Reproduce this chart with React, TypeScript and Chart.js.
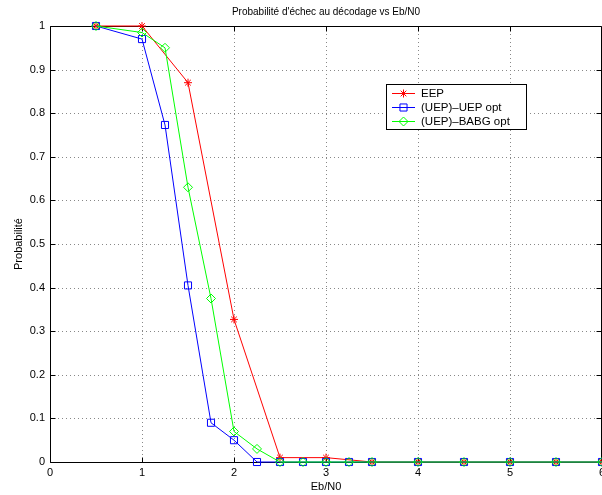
import React, { useEffect, useRef } from 'react';
import { Chart, registerables } from 'chart.js';

Chart.register(...registerables);

const titleText = "Probabilité d'échec au décodage vs Eb/N0";
const xLabel = 'Eb/N0';
const yLabel = 'Probabilité';

const seriesNames = ['EEP', '(UEP)–UEP opt', '(UEP)–BABG opt'];

const eepX = [0.5, 1, 1.5, 2, 2.5, 3, 3.5, 4, 4.5, 5, 5.5, 6];
const eepY = [1, 1, 0.87, 0.327, 0.01, 0.01, 0, 0, 0, 0, 0, 0];

const uepX = [0.5, 1, 1.25, 1.5, 1.75, 2, 2.25, 2.5, 2.75, 3, 3.25, 3.5, 4, 4.5, 5, 5.5, 6];
const uepY = [1, 0.97, 0.773, 0.405, 0.09, 0.05, 0, 0, 0, 0, 0, 0, 0, 0, 0, 0, 0];

const babgX = [0.5, 1, 1.25, 1.5, 1.75, 2, 2.25, 2.5, 2.75, 3, 3.25, 3.5, 4, 4.5, 5, 5.5, 6];
const babgY = [1, 0.985, 0.95, 0.63, 0.375, 0.07, 0.03, 0, 0, 0, 0, 0, 0, 0, 0, 0, 0];

const xTicks = [0, 1, 2, 3, 4, 5, 6];
const yTicks = [0, 0.1, 0.2, 0.3, 0.4, 0.5, 0.6, 0.7, 0.8, 0.9, 1];

const FONT = '"Liberation Sans", Arial, Helvetica, sans-serif';
const COLORS = ['#ff0000', '#0000ff', '#00ff00'];
const STYLES = ['star', 'rect', 'rectRot'];
const RADII = [4, 5, 4.5];

function toPoints(xs: number[], ys: number[]) {
  return xs.map((x, i) => ({ x, y: ys[i] }));
}

function drawMarker(ctx: CanvasRenderingContext2D, style: string, cx: number, cy: number, r: number, color: string) {
  ctx.save();
  ctx.strokeStyle = color;
  ctx.lineWidth = 1;
  ctx.beginPath();
  if (style === 'star') {
    ctx.moveTo(cx - r, cy); ctx.lineTo(cx + r, cy);
    ctx.moveTo(cx, cy - r); ctx.lineTo(cx, cy + r);
    const d = r * Math.SQRT1_2;
    ctx.moveTo(cx - d, cy - d); ctx.lineTo(cx + d, cy + d);
    ctx.moveTo(cx - d, cy + d); ctx.lineTo(cx + d, cy - d);
  } else if (style === 'rect') {
    const s = r * Math.SQRT1_2;
    ctx.rect(cx - s, cy - s, 2 * s, 2 * s);
  } else {
    ctx.moveTo(cx, cy - r); ctx.lineTo(cx + r, cy); ctx.lineTo(cx, cy + r); ctx.lineTo(cx - r, cy); ctx.closePath();
  }
  ctx.stroke();
  ctx.restore();
}

const matlabAxes = {
  id: 'matlabAxes',
  beforeDatasetsDraw(chart: any) {
    const { ctx, chartArea: a, scales } = chart;
    const xs = scales.x;
    const ys = scales.y;
    ctx.save();
    ctx.lineWidth = 1;
    ctx.strokeStyle = '#888888';
    ctx.setLineDash([1, 3]);
    ctx.beginPath();
    for (const v of xTicks) {
      const px = Math.round(xs.getPixelForValue(v)) + 0.5;
      if (px <= a.left + 2 || px >= a.right - 2) continue;
      ctx.moveTo(px, a.top);
      ctx.lineTo(px, a.bottom);
    }
    for (const v of yTicks) {
      const py = Math.round(ys.getPixelForValue(v)) + 0.5;
      if (py <= a.top + 2 || py >= a.bottom - 2) continue;
      ctx.moveTo(a.left, py);
      ctx.lineTo(a.right, py);
    }
    ctx.stroke();
    ctx.setLineDash([]);
    ctx.strokeStyle = '#000000';
    ctx.beginPath();
    const L = Math.round(a.left) + 0.5;
    const R = Math.round(a.right) - 0.5;
    const T = Math.round(a.top) + 0.5;
    const B = Math.round(a.bottom) + 0.5;
    ctx.moveTo(L, T); ctx.lineTo(R, T); ctx.lineTo(R, B); ctx.lineTo(L, B); ctx.closePath();
    const tl = 5;
    for (const v of xTicks) {
      const px = Math.round(xs.getPixelForValue(v)) + 0.5;
      ctx.moveTo(px, B); ctx.lineTo(px, B - tl);
      ctx.moveTo(px, T); ctx.lineTo(px, T + tl);
    }
    for (const v of yTicks) {
      const py = Math.round(ys.getPixelForValue(v)) + 0.5;
      ctx.moveTo(L, py); ctx.lineTo(L + tl, py);
      ctx.moveTo(R, py); ctx.lineTo(R - tl, py);
    }
    ctx.stroke();
    ctx.restore();
  },
  afterDraw(chart: any) {
    const { ctx, chartArea: a } = chart;
    ctx.save();
    ctx.fillStyle = '#000000';
    ctx.font = '10px ' + FONT;
    ctx.textAlign = 'center';
    ctx.textBaseline = 'middle';
    ctx.fillText(titleText, (a.left + a.right) / 2, 12);

    // legend
    const bx = 386.5, by = 84.5, bw = 140, bh = 45;
    ctx.fillStyle = '#ffffff';
    ctx.fillRect(bx, by, bw, bh);
    ctx.strokeStyle = '#000000';
    ctx.lineWidth = 1;
    ctx.strokeRect(bx, by, bw, bh);
    const rows = [93, 107, 121];
    ctx.textAlign = 'left';
    ctx.font = '11.5px ' + FONT;
    seriesNames.forEach((name, i) => {
      const y = rows[i] + 0.5;
      ctx.strokeStyle = COLORS[i];
      ctx.beginPath();
      ctx.moveTo(392, y);
      ctx.lineTo(415, y);
      ctx.stroke();
      drawMarker(ctx, STYLES[i], 403.5, y, RADII[i], COLORS[i]);
      ctx.fillStyle = '#000000';
      ctx.fillText(name, 421, rows[i] + 1);
    });
    ctx.restore();
  },
};

export default function App() {
  const ref = useRef<HTMLCanvasElement | null>(null);

  useEffect(() => {
    if (!ref.current) return;
    const mk = (i: number, xs: number[], ys: number[], order: number) => ({
      label: seriesNames[i],
      data: toPoints(xs, ys),
      borderColor: COLORS[i],
      backgroundColor: COLORS[i],
      borderWidth: 1,
      pointStyle: STYLES[i] as any,
      pointRadius: RADII[i],
      pointBorderColor: COLORS[i],
      pointBackgroundColor: 'rgba(0,0,0,0)',
      pointBorderWidth: 1,
      tension: 0,
      fill: false,
      clip: false as any,
      order,
    });
    const chart = new Chart(ref.current, {
      type: 'line',
      data: {
        datasets: [
          mk(0, eepX, eepY, 2),
          mk(1, uepX, uepY, 1),
          mk(2, babgX, babgY, 0),
        ],
      },
      plugins: [matlabAxes],
      options: {
        animation: false,
        responsive: false,
        events: [],
        layout: { padding: { left: 0, right: 38, top: 26, bottom: 0 } },
        plugins: {
          legend: { display: false },
          title: { display: false },
          tooltip: { enabled: false },
        },
        scales: {
          x: {
            type: 'linear',
            min: 0,
            max: 6,
            afterFit: (s: any) => { s.height = 33; },
            afterBuildTicks: (s: any) => { s.ticks = xTicks.map((v) => ({ value: v })); },
            ticks: {
              color: '#000000',
              font: { family: FONT, size: 11 },
              padding: 4,
              maxRotation: 0,
              callback: (v: any) => String(v),
            },
            grid: { display: false, drawTicks: false },
            border: { display: false },
            title: {
              display: true,
              text: xLabel,
              color: '#000000',
              font: { family: FONT, size: 11 },
              padding: { top: 0, bottom: 1 },
            },
          },
          y: {
            type: 'linear',
            min: 0,
            max: 1,
            afterFit: (s: any) => { s.width = 50; },
            afterBuildTicks: (s: any) => { s.ticks = yTicks.map((v) => ({ value: v })); },
            ticks: {
              color: '#000000',
              font: { family: FONT, size: 11 },
              padding: 5,
              callback: (v: any) => String(Math.round(Number(v) * 10) / 10),
            },
            grid: { display: false, drawTicks: false },
            border: { display: false },
            title: {
              display: true,
              text: yLabel,
              color: '#000000',
              font: { family: FONT, size: 11 },
              padding: { top: 12, bottom: 0 },
            },
          },
        },
      } as any,
    });
    return () => chart.destroy();
  }, []);

  return (
    <div style={{ position: 'absolute', left: 0, top: 0, width: 602, height: 495, overflow: 'hidden', background: '#ffffff' }}>
      <canvas ref={ref} width={640} height={495} style={{ display: 'block', width: 640, height: 495 }} />
    </div>
  );
}
